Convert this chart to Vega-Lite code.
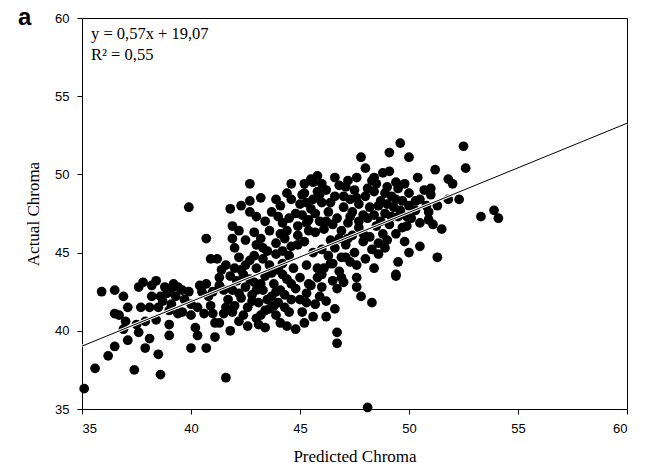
{
  "$schema": "https://vega.github.io/schema/vega-lite/v6.json",
  "width": 545,
  "height": 391,
  "autosize": {"type": "none"},
  "padding": {"left": 82, "top": 18, "right": 19, "bottom": 62},
  "background": "white",
  "config": {
    "view": {"stroke": "black", "strokeWidth": 1},
    "axis": {
      "grid": false,
      "domainColor": "black",
      "tickColor": "black",
      "tickSize": 5,
      "labelFont": "Liberation Sans",
      "labelFontSize": 13,
      "labelColor": "black",
      "titleFont": "Liberation Serif",
      "titleFontSize": 17,
      "titleFontWeight": "normal",
      "titleColor": "black"
    }
  },
  "datasets": {
    "pts": [
      {"predicted":35.1,"actual":36.3},{"predicted":35.6,"actual":37.6},{"predicted":36.2,"actual":38.4},{"predicted":36.5,"actual":39.0},
      {"predicted":35.9,"actual":42.5},{"predicted":36.5,"actual":42.6},{"predicted":36.9,"actual":42.2},{"predicted":36.5,"actual":41.1},
      {"predicted":36.7,"actual":41.0},{"predicted":37.1,"actual":41.5},{"predicted":37.0,"actual":40.6},{"predicted":36.9,"actual":40.1},
      {"predicted":37.1,"actual":39.4},{"predicted":37.4,"actual":37.5},{"predicted":37.6,"actual":42.8},{"predicted":37.8,"actual":43.1},
      {"predicted":38.4,"actual":43.2},{"predicted":38.2,"actual":42.9},{"predicted":37.7,"actual":41.5},{"predicted":38.1,"actual":41.5},
      {"predicted":37.5,"actual":40.4},{"predicted":37.9,"actual":40.6},{"predicted":37.6,"actual":39.9},{"predicted":38.1,"actual":39.5},
      {"predicted":37.9,"actual":38.9},{"predicted":38.5,"actual":38.5},{"predicted":38.6,"actual":37.2},{"predicted":38.4,"actual":40.7},
      {"predicted":38.5,"actual":41.5},{"predicted":38.7,"actual":41.9},{"predicted":38.6,"actual":42.2},{"predicted":38.8,"actual":42.8},
      {"predicted":39.1,"actual":42.7},{"predicted":39.2,"actual":43.0},{"predicted":39.0,"actual":41.3},{"predicted":39.1,"actual":41.7},
      {"predicted":39.0,"actual":40.4},{"predicted":39.0,"actual":39.7},{"predicted":39.6,"actual":42.6},{"predicted":39.9,"actual":42.5},
      {"predicted":39.6,"actual":41.2},{"predicted":39.4,"actual":41.1},{"predicted":40.0,"actual":41.7},{"predicted":40.0,"actual":41.0},
      {"predicted":40.2,"actual":40.2},{"predicted":40.3,"actual":39.7},{"predicted":40.0,"actual":38.9},{"predicted":40.7,"actual":38.9},
      {"predicted":40.4,"actual":42.9},{"predicted":40.7,"actual":43.0},{"predicted":40.5,"actual":42.5},{"predicted":40.9,"actual":41.6},
      {"predicted":41.0,"actual":41.1},{"predicted":41.1,"actual":40.5},{"predicted":41.1,"actual":39.6},{"predicted":41.0,"actual":42.5},
      {"predicted":41.3,"actual":42.9},{"predicted":41.3,"actual":43.4},{"predicted":39.9,"actual":47.9},{"predicted":40.7,"actual":45.9},
      {"predicted":40.9,"actual":44.6},{"predicted":41.2,"actual":44.6},{"predicted":41.6,"actual":37.0},{"predicted":39.3,"actual":42.2},
      {"predicted":38.2,"actual":42.2},
      {"predicted":41.8,"actual":47.8},{"predicted":42.7,"actual":48.3},{"predicted":43.2,"actual":48.5},{"predicted":42.7,"actual":49.4},
      {"predicted":42.7,"actual":47.6},{"predicted":41.9,"actual":46.7},{"predicted":42.2,"actual":46.4},{"predicted":43.2,"actual":45.9},
      {"predicted":41.6,"actual":44.2},{"predicted":41.8,"actual":40.0},{"predicted":41.3,"actual":40.5},{"predicted":41.9,"actual":41.2},
      {"predicted":41.5,"actual":41.1},{"predicted":42.2,"actual":40.6},{"predicted":42.6,"actual":40.3},{"predicted":43.1,"actual":40.4},
      {"predicted":43.4,"actual":40.2},{"predicted":44.1,"actual":40.5},{"predicted":44.4,"actual":40.3},{"predicted":44.8,"actual":40.1},
      {"predicted":45.2,"actual":40.5},{"predicted":46.2,"actual":40.9},{"predicted":46.7,"actual":39.9},{"predicted":46.7,"actual":39.2},
      {"predicted":48.1,"actual":35.1},{"predicted":48.3,"actual":41.8},
      {"predicted":41.7,"actual":42.0},{"predicted":41.9,"actual":42.6},{"predicted":42.1,"actual":43.2},{"predicted":42.0,"actual":41.6},
      {"predicted":42.3,"actual":42.1},{"predicted":42.5,"actual":42.8},{"predicted":42.4,"actual":43.6},{"predicted":42.6,"actual":41.5},
      {"predicted":42.8,"actual":42.3},{"predicted":42.9,"actual":43.1},{"predicted":43.0,"actual":44.0},{"predicted":42.7,"actual":44.5},
      {"predicted":43.1,"actual":41.8},{"predicted":43.3,"actual":42.6},{"predicted":43.4,"actual":43.5},{"predicted":43.2,"actual":41.0},
      {"predicted":43.6,"actual":41.4},{"predicted":43.7,"actual":42.2},{"predicted":43.8,"actual":43.0},{"predicted":43.6,"actual":44.2},
      {"predicted":43.9,"actual":44.9},{"predicted":44.0,"actual":41.8},{"predicted":44.1,"actual":42.6},{"predicted":43.5,"actual":45.1},
      {"predicted":42.2,"actual":44.7},{"predicted":41.8,"actual":43.5},{"predicted":42.0,"actual":45.3},{"predicted":43.0,"actual":45.5},
      {"predicted":43.9,"actual":45.6},{"predicted":44.2,"actual":43.6},{"predicted":42.4,"actual":41.0},{"predicted":43.0,"actual":40.8},
      {"predicted":43.9,"actual":41.0},{"predicted":41.6,"actual":41.5},{"predicted":42.9,"actual":46.3},{"predicted":43.6,"actual":46.4},
      {"predicted":42.5,"actual":45.8},{"predicted":44.1,"actual":46.2},{"predicted":41.9,"actual":45.9},
      {"predicted":44.1,"actual":48.0},{"predicted":44.6,"actual":48.4},{"predicted":45.2,"actual":48.8},{"predicted":44.6,"actual":49.4},
      {"predicted":45.6,"actual":49.5},{"predicted":45.8,"actual":49.9},{"predicted":44.2,"actual":46.9},{"predicted":44.9,"actual":46.7},
      {"predicted":45.4,"actual":47.1},{"predicted":45.4,"actual":46.4},
      {"predicted":45.5,"actual":49.7},{"predicted":45.2,"actual":49.4},{"predicted":45.8,"actual":48.9},{"predicted":46.2,"actual":49.0},
      {"predicted":45.1,"actual":48.7},{"predicted":47.8,"actual":51.1},{"predicted":47.2,"actual":49.6},{"predicted":48.4,"actual":49.8},
      {"predicted":46.5,"actual":44.3},{"predicted":46.9,"actual":44.7},{"predicted":46.8,"actual":43.8},{"predicted":47.3,"actual":44.4},
      {"predicted":46.7,"actual":42.7},{"predicted":47.6,"actual":43.4},{"predicted":47.6,"actual":42.8},{"predicted":47.8,"actual":42.2},
      {"predicted":45.8,"actual":43.4},{"predicted":45.5,"actual":42.9},{"predicted":46.0,"actual":42.8},{"predicted":45.3,"actual":42.4},
      {"predicted":45.9,"actual":42.2},{"predicted":48.6,"actual":44.9},{"predicted":48.9,"actual":45.3},{"predicted":49.5,"actual":44.4},
      {"predicted":49.4,"actual":43.6},
      {"predicted":44.3,"actual":41.5},{"predicted":44.6,"actual":42.0},{"predicted":44.8,"actual":42.7},{"predicted":44.4,"actual":43.3},
      {"predicted":44.7,"actual":44.0},{"predicted":44.5,"actual":44.8},{"predicted":44.9,"actual":45.5},{"predicted":44.3,"actual":45.9},
      {"predicted":45.1,"actual":41.2},{"predicted":45.3,"actual":41.8},{"predicted":45.0,"actual":43.4},{"predicted":45.3,"actual":44.2},
      {"predicted":45.6,"actual":45.0},{"predicted":45.2,"actual":45.7},{"predicted":45.7,"actual":46.3},{"predicted":45.9,"actual":47.0},
      {"predicted":45.5,"actual":47.8},{"predicted":46.0,"actual":48.2},{"predicted":46.3,"actual":47.6},{"predicted":46.1,"actual":46.5},
      {"predicted":46.4,"actual":45.8},{"predicted":46.0,"actual":45.2},{"predicted":46.3,"actual":44.8},{"predicted":46.1,"actual":44.0},
      {"predicted":46.5,"actual":43.2},{"predicted":46.2,"actual":41.9},{"predicted":46.6,"actual":41.4},{"predicted":46.9,"actual":46.4},
      {"predicted":46.7,"actual":47.2},{"predicted":47.0,"actual":47.9},{"predicted":47.3,"actual":48.4},{"predicted":46.6,"actual":48.6},
      {"predicted":47.2,"actual":46.9},{"predicted":47.4,"actual":46.1},{"predicted":47.1,"actual":45.5},{"predicted":47.5,"actual":45.0},
      {"predicted":44.8,"actual":47.5},{"predicted":44.5,"actual":47.2},{"predicted":45.0,"actual":48.1},{"predicted":46.8,"actual":49.3},
      {"predicted":47.5,"actual":49.0},{"predicted":44.0,"actual":47.3},{"predicted":43.7,"actual":47.6},{"predicted":43.4,"actual":47.0},
      {"predicted":45.8,"actual":44.0},{"predicted":44.2,"actual":44.3},{"predicted":43.3,"actual":44.6},{"predicted":46.9,"actual":43.4},
      {"predicted":47.7,"actual":46.6},{"predicted":47.9,"actual":47.4},
      {"predicted":47.7,"actual":48.1},{"predicted":48.0,"actual":48.6},{"predicted":48.2,"actual":47.9},{"predicted":48.4,"actual":48.9},
      {"predicted":48.7,"actual":48.3},{"predicted":48.9,"actual":47.5},{"predicted":48.1,"actual":47.2},{"predicted":48.5,"actual":46.7},
      {"predicted":48.8,"actual":46.2},{"predicted":48.2,"actual":46.0},{"predicted":47.9,"actual":45.7},{"predicted":48.6,"actual":45.6},
      {"predicted":49.0,"actual":49.2},{"predicted":49.2,"actual":48.6},{"predicted":49.3,"actual":47.9},{"predicted":49.5,"actual":47.3},
      {"predicted":49.1,"actual":46.8},{"predicted":49.4,"actual":46.2},{"predicted":49.0,"actual":45.8},{"predicted":49.8,"actual":45.7},
      {"predicted":49.7,"actual":46.6},{"predicted":48.3,"actual":49.6},{"predicted":48.8,"actual":50.1},{"predicted":47.4,"actual":47.6},
      {"predicted":49.6,"actual":52.0},{"predicted":49.1,"actual":51.4},{"predicted":50.0,"actual":51.1},{"predicted":49.1,"actual":50.2},
      {"predicted":48.0,"actual":50.4},{"predicted":47.6,"actual":49.8},
      {"predicted":50.4,"actual":49.8},{"predicted":51.0,"actual":49.1},{"predicted":51.0,"actual":48.7},{"predicted":50.5,"actual":48.4},
      {"predicted":50.0,"actual":48.0},{"predicted":49.6,"actual":47.7},{"predicted":50.1,"actual":47.2},{"predicted":50.9,"actual":47.1},
      {"predicted":51.1,"actual":46.8},{"predicted":49.9,"actual":46.7},{"predicted":49.8,"actual":49.4},{"predicted":49.5,"actual":49.1},
      {"predicted":50.0,"actual":48.8},{"predicted":50.7,"actual":49.0},{"predicted":49.4,"actual":49.5},{"predicted":50.3,"actual":48.3},
      {"predicted":50.8,"actual":48.0},{"predicted":49.7,"actual":48.3},{"predicted":50.9,"actual":47.6},
      {"predicted":51.2,"actual":50.3},{"predicted":52.6,"actual":50.4},{"predicted":52.5,"actual":51.8},{"predicted":51.8,"actual":49.7},
      {"predicted":52.0,"actual":49.4},{"predicted":52.3,"actual":48.4},{"predicted":51.8,"actual":48.4},{"predicted":51.3,"actual":48.0},
      {"predicted":53.3,"actual":47.3},{"predicted":53.9,"actual":47.7},{"predicted":54.1,"actual":47.2},{"predicted":51.5,"actual":46.5},
      {"predicted":51.3,"actual":44.7},{"predicted":50.5,"actual":45.4},{"predicted":50.0,"actual":45.0},{"predicted":49.4,"actual":43.5},
      {"predicted":48.0,"actual":44.6},{"predicted":48.4,"actual":44.0},
      {"predicted":44.4,"actual":46.4},{"predicted":44.9,"actual":46.1},{"predicted":45.3,"actual":46.9},{"predicted":45.6,"actual":48.4},
      {"predicted":46.2,"actual":47.0},{"predicted":46.5,"actual":46.8},{"predicted":46.8,"actual":45.9},{"predicted":47.1,"actual":44.7},
      {"predicted":47.6,"actual":44.2},{"predicted":47.9,"actual":46.2},{"predicted":48.4,"actual":47.4},{"predicted":48.7,"actual":47.0},
      {"predicted":49.2,"actual":47.3},{"predicted":48.9,"actual":48.8},{"predicted":48.5,"actual":49.4},{"predicted":47.7,"actual":47.0},
      {"predicted":47.0,"actual":48.6},{"predicted":46.4,"actual":48.2},{"predicted":45.9,"actual":48.7},
      {"predicted":42.2,"actual":42.4},{"predicted":42.7,"actual":43.3},{"predicted":43.2,"actual":43.0},{"predicted":43.5,"actual":42.0},
      {"predicted":44.3,"actual":42.3},{"predicted":44.6,"actual":43.0},{"predicted":44.0,"actual":43.9},{"predicted":45.0,"actual":42.0},
      {"predicted":45.4,"actual":43.0},{"predicted":45.7,"actual":41.7},{"predicted":43.8,"actual":41.6},{"predicted":42.8,"actual":41.9},
      {"predicted":45.1,"actual":47.4},{"predicted":45.7,"actual":47.5},{"predicted":46.0,"actual":49.4},{"predicted":46.6,"actual":49.8},
      {"predicted":47.1,"actual":49.2},{"predicted":47.3,"actual":47.3},{"predicted":47.6,"actual":48.5},{"predicted":48.1,"actual":49.1},
      {"predicted":48.6,"actual":48.0},{"predicted":49.0,"actual":48.1},{"predicted":49.4,"actual":48.4},{"predicted":49.9,"actual":47.3},
      {"predicted":50.3,"actual":47.7},{"predicted":50.5,"actual":46.9},{"predicted":48.3,"actual":45.2},{"predicted":47.2,"actual":45.9},
      {"predicted":46.6,"actual":45.3},{"predicted":46.4,"actual":44.3},{"predicted":47.0,"actual":43.1},{"predicted":46.0,"actual":43.6},
      {"predicted":42.5,"actual":44.2},{"predicted":42.9,"actual":44.8},{"predicted":43.3,"actual":45.3},{"predicted":43.7,"actual":43.7},
      {"predicted":44.2,"actual":45.1},{"predicted":44.6,"actual":45.4},{"predicted":43.0,"actual":42.6},{"predicted":43.9,"actual":42.5},
      {"predicted":42.3,"actual":43.9},{"predicted":41.5,"actual":42.6},{"predicted":41.4,"actual":43.9},{"predicted":42.0,"actual":44.0},
      {"predicted":44.5,"actual":41.2},{"predicted":45.6,"actual":40.9},{"predicted":43.4,"actual":41.3},
      {"predicted":39.7,"actual":42.0},{"predicted":40.3,"actual":41.5},{"predicted":40.6,"actual":41.1},{"predicted":39.4,"actual":42.8},
      {"predicted":40.8,"actual":42.2},{"predicted":38.9,"actual":42.4},
      {"predicted":43.0,"actual":47.3},{"predicted":43.9,"actual":48.4},{"predicted":42.3,"actual":48.0},{"predicted":44.4,"actual":48.8},
      {"predicted":45.3,"actual":48.2}
    ],
    "fit": [
      {"predicted": 35, "actual": 39.02},
      {"predicted": 60, "actual": 53.27}
    ],
    "one": [{}]
  },
  "layer": [
    {
      "data": {"name": "pts"},
      "mark": {"type": "circle", "size": 95, "color": "black", "opacity": 1},
      "encoding": {
        "x": {
          "field": "predicted", "type": "quantitative",
          "scale": {"domain": [35, 60], "nice": false, "zero": false},
          "axis": {"title": "Predicted Chroma", "values": [35, 40, 45, 50, 55, 60], "labelPadding": 8, "titlePadding": 13}
        },
        "y": {
          "field": "actual", "type": "quantitative",
          "scale": {"domain": [35, 60], "nice": false, "zero": false},
          "axis": {"title": "Actual Chroma", "values": [35, 40, 45, 50, 55, 60], "labelPadding": 8, "titlePadding": 12}
        }
      }
    },
    {
      "data": {"name": "fit"},
      "mark": {"type": "line", "color": "white", "strokeWidth": 3},
      "encoding": {
        "x": {"field": "predicted", "type": "quantitative"},
        "y": {"field": "actual", "type": "quantitative"}
      }
    },
    {
      "data": {"name": "fit"},
      "mark": {"type": "line", "color": "black", "strokeWidth": 1},
      "encoding": {
        "x": {"field": "predicted", "type": "quantitative"},
        "y": {"field": "actual", "type": "quantitative"}
      }
    },
    {
      "data": {"name": "one"},
      "mark": {"type": "text", "text": "y = 0,57x + 19,07", "font": "Liberation Serif", "fontSize": 16.5, "align": "left", "baseline": "alphabetic", "dx": 9, "dy": 21, "color": "black"},
      "encoding": {"x": {"datum": 35, "type": "quantitative"}, "y": {"datum": 60, "type": "quantitative"}}
    },
    {
      "data": {"name": "one"},
      "mark": {"type": "text", "text": "R² = 0,55", "font": "Liberation Serif", "fontSize": 16.5, "align": "left", "baseline": "alphabetic", "dx": 9, "dy": 42, "color": "black"},
      "encoding": {"x": {"datum": 35, "type": "quantitative"}, "y": {"datum": 60, "type": "quantitative"}}
    },
    {
      "data": {"name": "one"},
      "mark": {"type": "text", "text": "a", "font": "Liberation Sans", "fontSize": 24, "fontWeight": "bold", "align": "left", "baseline": "alphabetic", "dx": -64, "dy": 7, "color": "black"},
      "encoding": {"x": {"datum": 35, "type": "quantitative"}, "y": {"datum": 60, "type": "quantitative"}}
    }
  ]
}
